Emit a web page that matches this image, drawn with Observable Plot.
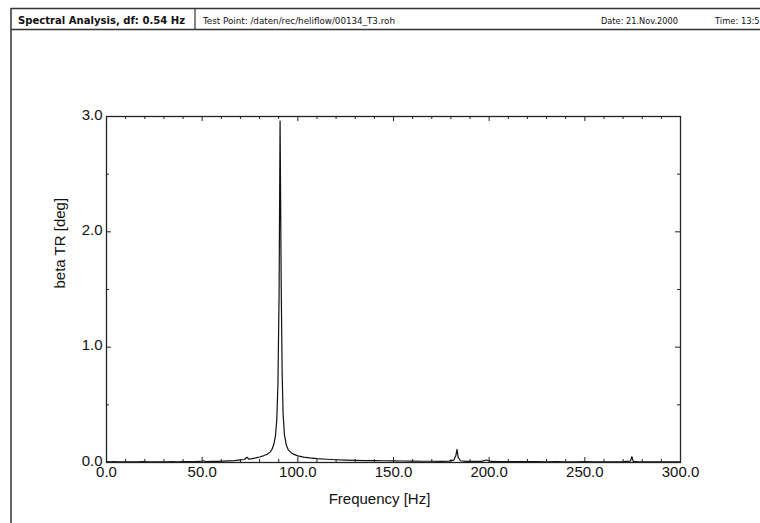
<!DOCTYPE html>
<html><head><meta charset="utf-8">
<script src="https://cdn.jsdelivr.net/npm/d3@7"></script>
<script src="https://cdn.jsdelivr.net/npm/@observablehq/plot@0.6"></script>
<style>
body{margin:0;background:#fff;}
#wrap{position:relative;width:760px;height:523px;overflow:hidden;}
#hdr{position:absolute;left:0;top:0;}
</style></head><body>
<div id="wrap"><div id="chart"></div><svg id="hdr" width="760" height="523"></svg></div>
<script>
const freq = [0, 2, 4, 6, 8, 10, 13, 16, 19, 22, 25, 28, 31, 34, 37, 40, 43, 46, 49, 50.5, 52, 55, 58, 61, 64, 67, 70, 72, 73.4, 74.5, 76, 78, 80, 82, 84, 85.5, 86.5, 87.5, 88.3, 89, 89.6, 90.2, 90.72, 91.3, 91.8, 92.3, 93, 94, 95, 96.5, 98, 100, 103, 106, 110, 115, 120, 125, 130, 135, 140, 145, 150, 155, 160, 165, 170, 175, 179, 181.5, 182.6, 183.2, 183.8, 185, 188, 192, 196, 198.5, 201, 205, 210, 215, 220, 225, 230, 235, 240, 245, 250, 255, 260, 265, 270, 273.8, 274.6, 275.3, 278, 282, 286, 290, 295, 300];
const betaTR = [0.008, 0.006, 0.007, 0.005, 0.006, 0.005, 0.006, 0.005, 0.007, 0.005, 0.006, 0.006, 0.005, 0.007, 0.006, 0.007, 0.008, 0.007, 0.009, 0.015, 0.008, 0.009, 0.010, 0.012, 0.014, 0.017, 0.022, 0.026, 0.045, 0.028, 0.033, 0.040, 0.048, 0.058, 0.072, 0.090, 0.115, 0.16, 0.23, 0.37, 0.68, 1.45, 2.96, 1.55, 0.78, 0.42, 0.24, 0.15, 0.11, 0.085, 0.07, 0.058, 0.047, 0.040, 0.033, 0.028, 0.024, 0.021, 0.019, 0.017, 0.016, 0.015, 0.014, 0.013, 0.012, 0.011, 0.011, 0.010, 0.012, 0.02, 0.06, 0.115, 0.045, 0.015, 0.010, 0.009, 0.010, 0.022, 0.009, 0.008, 0.008, 0.007, 0.008, 0.007, 0.006, 0.007, 0.006, 0.006, 0.007, 0.006, 0.006, 0.006, 0.007, 0.012, 0.05, 0.010, 0.006, 0.005, 0.006, 0.005, 0.005, 0.005];
const xMajor = [0, 50, 100, 150, 200, 250, 300];
const xMinor = [10, 20, 30, 40, 60, 70, 80, 90, 110, 120, 130, 140, 160, 170, 180, 190, 210, 220, 230, 240, 260, 270, 280, 290];
const yMajor = [0, 1, 2, 3];
const yMinor = [0.5, 1.5, 2.5];
const xTitle = "Frequency [Hz]";
const yTitle = "beta TR [deg]";
const headerTitle = "Spectral Analysis, df: 0.54 Hz";
const headerPoint = "Test Point: /daten/rec/heliflow/00134_T3.roh";
const headerDate = "Date: 21.Nov.2000";
const headerTime = "Time: 13:52";

const data = freq.map((f, i) => ({f, v: betaTR[i]}));
const W = 760, H = 523, mL = 106, mR = 80, mT = 116, mB = 61;
const fw = W - mL - mR, fh = H - mT - mB;
const fmt = d => d.toFixed(1);

const plot = Plot.plot({
  width: W, height: H,
  marginLeft: mL, marginRight: mR, marginTop: mT, marginBottom: mB,
  x: {domain: [0, 300], axis: null},
  y: {domain: [0, 3], axis: null},
  style: {fontFamily: "'Liberation Sans', Arial, sans-serif", fontSize: "15px", background: "#fff", color: "#111"},
  marks: [
    Plot.line(data, {x: "f", y: "v", stroke: "#111", strokeWidth: 1.2}),
    Plot.frame({stroke: "#222", strokeWidth: 1.3}),
    Plot.ruleX(xMajor, {x: d => d, insetTop: fh - 5, stroke: "#222"}),
    Plot.ruleX(xMinor, {x: d => d, insetTop: fh - 3, stroke: "#222"}),
    Plot.ruleX(xMajor, {x: d => d, insetBottom: fh - 5, stroke: "#222"}),
    Plot.ruleX(xMinor, {x: d => d, insetBottom: fh - 3, stroke: "#222"}),
    Plot.ruleY(yMajor, {y: d => d, insetRight: fw - 5, stroke: "#222"}),
    Plot.ruleY(yMinor, {y: d => d, insetRight: fw - 3, stroke: "#222"}),
    Plot.ruleY(yMajor, {y: d => d, insetLeft: fw - 5, stroke: "#222"}),
    Plot.ruleY(yMinor, {y: d => d, insetLeft: fw - 3, stroke: "#222"}),
    Plot.text(xMajor, {x: d => d, text: fmt, frameAnchor: "bottom", lineAnchor: "top", dy: 4, fill: "#111"}),
    Plot.text(yMajor, {y: d => d, text: fmt, frameAnchor: "left", textAnchor: "end", dx: -4, dy: -1.5, fill: "#111"}),
    Plot.text([xTitle], {text: d => d, frameAnchor: "bottom", lineAnchor: "top", dx: -14, dy: 31, fill: "#111"}),
    Plot.text([yTitle], {text: d => d, frameAnchor: "left", rotate: -90, dx: -46, dy: -1, fill: "#111"})
  ]
});
document.getElementById("chart").appendChild(plot);

const hdr = d3.select("#hdr");
const st = "#333";
hdr.append("line").attr("x1", 11).attr("x2", 760).attr("y1", 8.5).attr("y2", 8.5).attr("stroke", st).attr("stroke-width", 1.5);
hdr.append("line").attr("x1", 11).attr("x2", 760).attr("y1", 29.5).attr("y2", 29.5).attr("stroke", st).attr("stroke-width", 1.5);
hdr.append("line").attr("x1", 11).attr("x2", 11).attr("y1", 8).attr("y2", 523).attr("stroke", st).attr("stroke-width", 1.5);
hdr.append("line").attr("x1", 195).attr("x2", 195).attr("y1", 8).attr("y2", 29.5).attr("stroke", st).attr("stroke-width", 1.2);
const ff = "'DejaVu Sans', sans-serif";
hdr.append("text").attr("x", 18).attr("y", 24).attr("font-family", ff).attr("font-size", 11).attr("font-weight", "bold")
  .attr("textLength", 167).attr("lengthAdjust", "spacingAndGlyphs").attr("fill", "#111").text(headerTitle);
hdr.append("text").attr("x", 203).attr("y", 24).attr("font-family", ff).attr("font-size", 8)
  .attr("textLength", 192).attr("lengthAdjust", "spacingAndGlyphs").attr("fill", "#111").text(headerPoint);
hdr.append("text").attr("x", 601).attr("y", 24).attr("font-family", ff).attr("font-size", 8)
  .attr("textLength", 77).attr("lengthAdjust", "spacingAndGlyphs").attr("fill", "#111").text(headerDate);
hdr.append("text").attr("x", 715).attr("y", 24).attr("font-family", ff).attr("font-size", 8)
  .attr("textLength", 50).attr("lengthAdjust", "spacingAndGlyphs").attr("fill", "#111").text(headerTime);
</script>
</body></html>
